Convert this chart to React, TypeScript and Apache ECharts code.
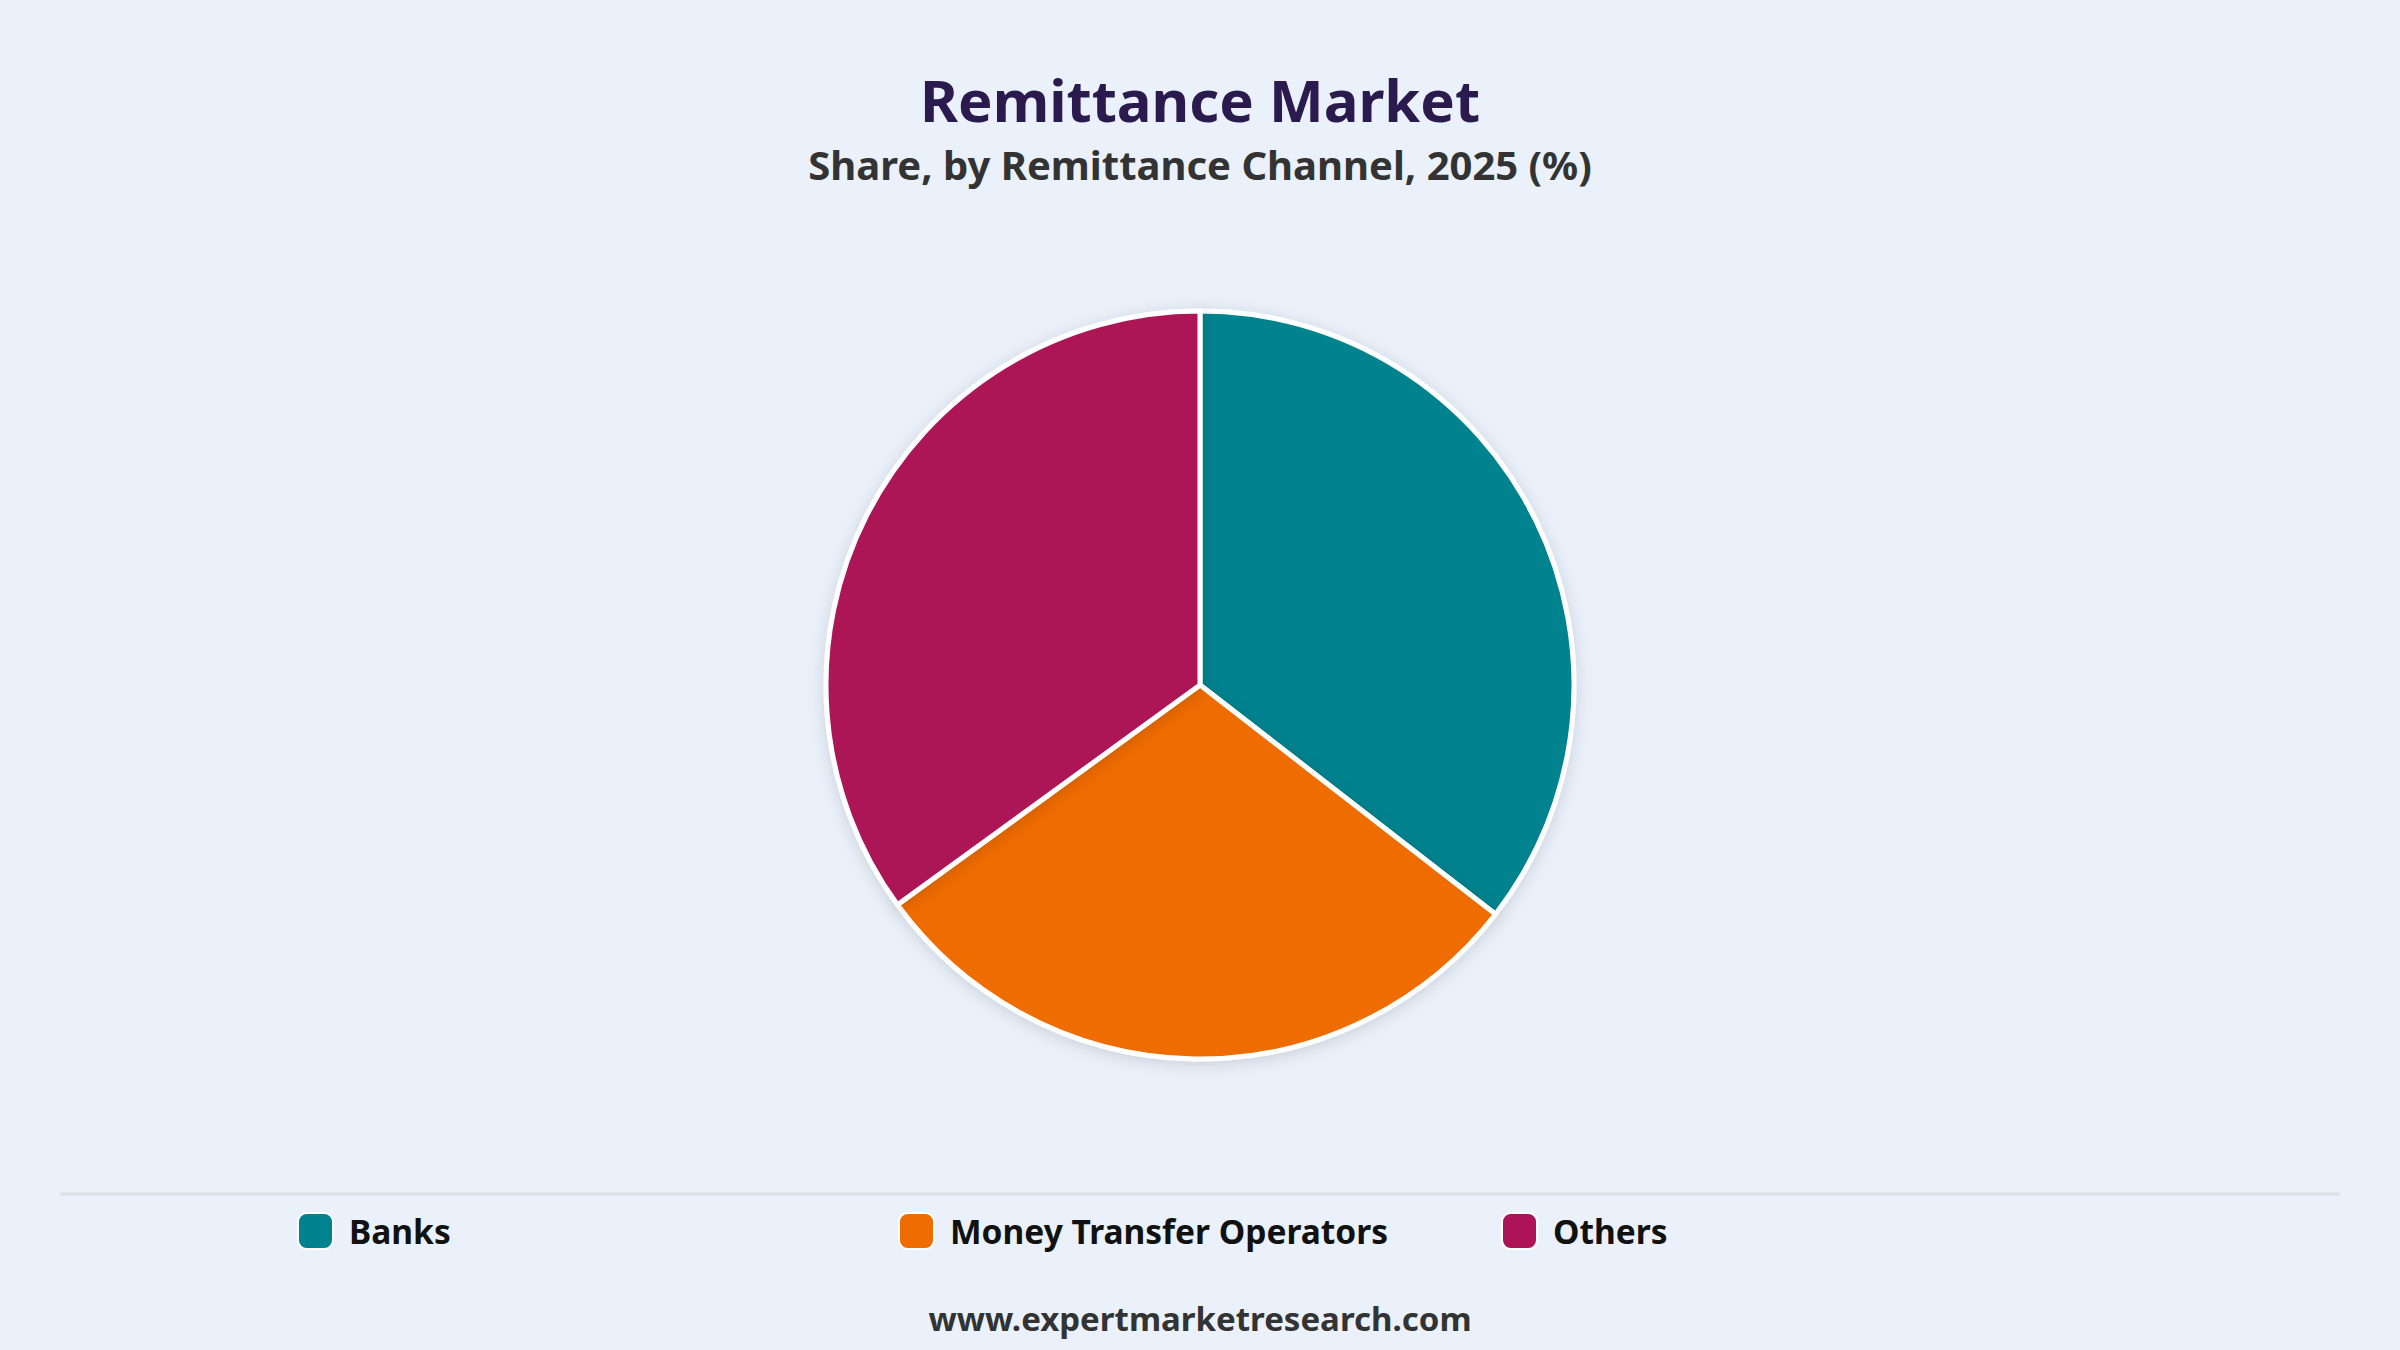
import { useEffect, useRef } from 'react';
import * as echarts from 'echarts';

// Remittance market share by channel, 2025 (%)
const channels = ['Banks', 'Money Transfer Operators', 'Others'];
const shares = [35.5, 29.5, 35.0];
const colors = ['#00838F', '#EF6C00', '#AD1457'];

const titleText = 'Remittance Market';
const subtitleText = 'Share, by Remittance Channel, 2025 (%)';
const footerText = 'www.expertmarketresearch.com';

const FONT = '"Noto Sans", "Open Sans", sans-serif';
const legendLefts = [297, 898, 1501];

export default function App() {
  const chartRef = useRef<HTMLDivElement>(null);

  useEffect(() => {
    if (!chartRef.current) return;
    document.body.style.margin = '0';
    const chart = echarts.init(chartRef.current, null, { renderer: 'svg' });

    const option = {
      animation: false,
      backgroundColor: '#EAF1FB',
      graphic: [
        {
          type: 'text',
          x: 1200,
          y: 99,
          style: {
            text: titleText,
            fontFamily: FONT,
            fontSize: 58,
            fontWeight: 'bold',
            fill: '#2B1A4E',
            textAlign: 'center',
            textVerticalAlign: 'middle',
          },
        },
        {
          type: 'text',
          x: 1200,
          y: 164,
          style: {
            text: subtitleText,
            fontFamily: FONT,
            fontSize: 40,
            fontWeight: 'bold',
            fill: '#333333',
            textAlign: 'center',
            textVerticalAlign: 'middle',
          },
        },
        {
          type: 'line',
          shape: { x1: 60, y1: 1194, x2: 2340, y2: 1194 },
          style: { stroke: '#DCDFE3', lineWidth: 3 },
        },
        {
          type: 'text',
          x: 1200,
          y: 1318,
          style: {
            text: footerText,
            fontFamily: FONT,
            fontSize: 33,
            fontWeight: 'bold',
            fill: '#333333',
            textAlign: 'center',
            textVerticalAlign: 'middle',
          },
        },
      ],
      legend: channels.map((name, i) => ({
        data: [name],
        left: legendLefts[i],
        top: 1212,
        padding: 0,
        itemWidth: 35,
        itemHeight: 36,
        icon: 'roundRect',
        selectedMode: false,
        textStyle: {
          fontFamily: FONT,
          fontSize: 33.5,
          fontWeight: 'bold',
          color: '#111111',
          padding: [0, 0, 0, 11],
        },
      })),
      series: [
        {
          type: 'pie',
          center: [1200, 685],
          radius: 374,
          startAngle: 90,
          clockwise: true,
          label: { show: false },
          labelLine: { show: false },
          emphasis: { disabled: true },
          itemStyle: {
            borderColor: '#FFFFFF',
            borderWidth: 5,
            shadowBlur: 16,
            shadowOffsetY: 3,
            shadowColor: 'rgba(0, 0, 0, 0.14)',
          },
          data: channels.map((name, i) => ({
            name,
            value: shares[i],
            itemStyle: { color: colors[i] },
          })),
        },
      ],
    };

    chart.setOption(option as echarts.EChartsOption);

    return () => {
      chart.dispose();
    };
  }, []);

  return <div ref={chartRef} style={{ width: '2400px', height: '1350px' }} />;
}
